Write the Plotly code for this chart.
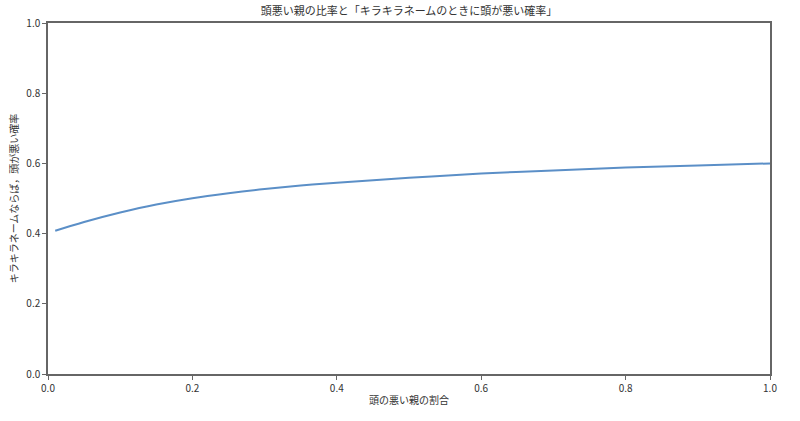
import plotly.graph_objects as go

# Values
ratio_x = [0.01, 0.05, 0.10, 0.15, 0.20, 0.25, 0.30, 0.35, 0.40, 0.50, 0.60, 0.70, 0.80, 0.90, 1.00]
prob_y = [0.408, 0.433, 0.460, 0.483, 0.501, 0.515, 0.527, 0.537, 0.545, 0.559, 0.571, 0.580, 0.588, 0.594, 0.600]
tick_vals = [0.0, 0.2, 0.4, 0.6, 0.8, 1.0]
tick_text = ["0.0", "0.2", "0.4", "0.6", "0.8", "1.0"]

title_text = "頭悪い親の比率と「キラキラネームのときに頭が悪い確率」"
x_label = "頭の悪い親の割合"
y_label = "キラキラネームならば，頭が悪い確率"

FONT = "Noto Sans CJK JP"

fig = go.Figure()
fig.add_trace(go.Scatter(
    x=ratio_x, y=prob_y, mode="lines",
    line=dict(color="#5b8fc7", width=2, shape="spline", smoothing=1.0),
    showlegend=False, hoverinfo="skip",
))

axis_common = dict(
    range=[0, 1], tickmode="array", tickvals=tick_vals, ticktext=tick_text,
    showgrid=False, zeroline=False, showline=True, linecolor="#666666", linewidth=1.5,
    mirror=True, ticks="outside", ticklen=4, tickwidth=1, tickcolor="#666666",
    tickfont=dict(family=FONT, size=10, color="#333333"),
)

fig.update_layout(
    width=800, height=421,
    margin=dict(l=48, r=30, t=23, b=47),
    paper_bgcolor="white", plot_bgcolor="white",
    font=dict(family=FONT, size=10, color="#333333"),
    title=dict(text=title_text, x=0.5, xref="paper", y=1 - 11 / 421, yref="container",
               yanchor="middle", xanchor="center", font=dict(family=FONT, size=11, color="#333333")),
    xaxis=dict(**axis_common, title=dict(text=x_label, standoff=3, font=dict(family=FONT, size=10))),
    yaxis=dict(**axis_common, title=dict(text=y_label, standoff=6, font=dict(family=FONT, size=10))),
)

fig.write_html("out.html", config={"displayModeBar": False},
               post_script="document.body.style.margin='0';")
